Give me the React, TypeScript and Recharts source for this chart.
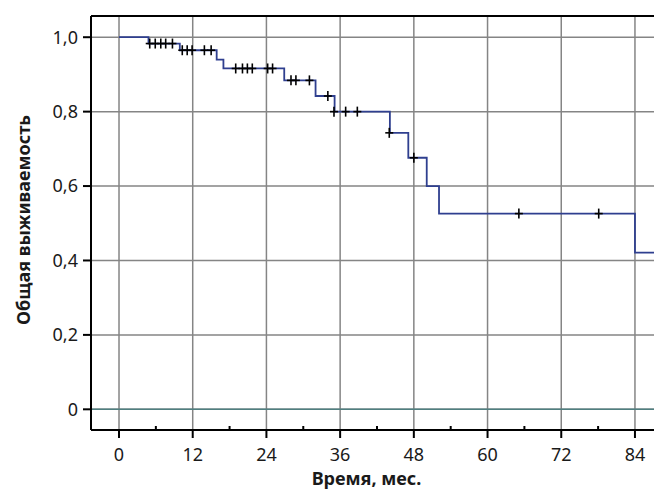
import { CartesianGrid, ComposedChart, Label, Line, ReferenceLine, Scatter, XAxis, YAxis } from "recharts"

// ступеньки кривой Каплана–Мейера
const stepTimes = [0, 4.8, 9.9, 15.9, 17.0, 26.9, 32.0, 35.1, 44.1, 47.1, 50.1, 52.1, 84.0, 88]
const stepSurvival = [1.0, 0.983, 0.965, 0.94, 0.916, 0.884, 0.842, 0.8, 0.743, 0.676, 0.6, 0.526, 0.421, 0.421]

// цензурированные наблюдения
const censorTimes = [
  5.0, 5.9, 6.8, 7.6, 8.7, 10.3, 11.1, 11.9, 13.9, 15.0, 19.0, 20.1, 20.9, 21.7, 24.2, 25.0, 28.0, 28.8,
  31.0, 34.0, 35.0, 36.9, 38.8, 44.0, 48.0, 65.1, 78.1,
]
const censorSurvival = [
  0.983, 0.983, 0.983, 0.983, 0.983, 0.965, 0.965, 0.965, 0.965, 0.965, 0.916, 0.916, 0.916, 0.916, 0.916,
  0.916, 0.884, 0.884, 0.884, 0.842, 0.8, 0.8, 0.8, 0.743, 0.676, 0.526, 0.526,
]

const xMajorTicks = [0, 12, 24, 36, 48, 60, 72, 84]
const xMinorTicks = [6, 18, 30, 42, 54, 66, 78]
const yTicks = [0, 0.2, 0.4, 0.6, 0.8, 1.0]

const X_DOMAIN: [number, number] = [-4.56, 87.1]
const Y_DOMAIN: [number, number] = [-0.0556, 1.057]

const steps = stepTimes.map((t, i) => ({ t, s: stepSurvival[i] }))
const censored = censorTimes.map((t, i) => ({ t, s: censorSurvival[i] }))
const allXTicks = [...xMajorTicks, ...xMinorTicks].sort((a, b) => a - b)

const FONT = "'Noto Sans', sans-serif"
const GRID = "#858585"

function XTick({ x, y, payload }: any) {
  if (xMajorTicks.includes(payload.value)) {
    return (
      <g>
        <line x1={x} x2={x} y1={y} y2={y + 8} stroke="#000" strokeWidth={2} />
        <text x={x} y={y + 31} textAnchor="middle" fontFamily={FONT} fontSize={18} fill="#1a1a1a">
          {payload.value}
        </text>
      </g>
    )
  }
  return <line x1={x} x2={x} y1={y} y2={y - 4} stroke="#000" strokeWidth={2} />
}

function Censor({ cx, cy }: any) {
  return (
    <g stroke="#000" strokeWidth={1.6}>
      <line x1={cx - 4} x2={cx + 4} y1={cy} y2={cy} />
      <line x1={cx} x2={cx} y1={cy - 5} y2={cy + 5} />
    </g>
  )
}

export default function App() {
  return (
    <div style={{ position: "fixed", left: 0, top: 0, background: "#fff" }}>
      <ComposedChart width={654} height={491} margin={{ top: 16, right: 0, bottom: 0, left: 0 }}>
        <CartesianGrid vertical={false} stroke={GRID} strokeWidth={1.5} />
        {xMajorTicks.map((v) => (
          <ReferenceLine key={v} x={v} stroke={GRID} strokeWidth={1.5} />
        ))}
        <ReferenceLine y={0} stroke="#4f7f80" strokeWidth={1.5} />
        <ReferenceLine y={Y_DOMAIN[1]} stroke="#000" strokeWidth={2} />
        <XAxis
          dataKey="t"
          type="number"
          domain={X_DOMAIN}
          allowDataOverflow
          ticks={allXTicks}
          interval={0}
          tickLine={false}
          tickSize={0}
          tickMargin={0}
          tick={<XTick />}
          height={61}
          axisLine={{ stroke: "#000", strokeWidth: 2 }}
        >
          <Label
            content={({ viewBox }: any) => (
              <text
                x={viewBox.x + viewBox.width / 2 - 6}
                y={viewBox.y + 55}
                textAnchor="middle"
                fontFamily={FONT}
                fontWeight={700}
                fontSize={18}
                fill="#1a1a1a"
              >
                Время, мес.
              </text>
            )}
          />
        </XAxis>
        <YAxis
          dataKey="s"
          type="number"
          domain={Y_DOMAIN}
          allowDataOverflow
          ticks={yTicks}
          interval={0}
          width={91}
          tickSize={8}
          tickMargin={5}
          tickFormatter={(v: number) => (v === 0 ? "0" : v.toFixed(1).replace(".", ","))}
          tick={{ fontFamily: FONT, fontSize: 18, fill: "#1a1a1a" }}
          tickLine={{ stroke: "#000", strokeWidth: 2 }}
          axisLine={{ stroke: "#000", strokeWidth: 2 }}
        >
          <Label
            content={({ viewBox }: any) => {
              const cx = viewBox.x + 23
              const cy = viewBox.y + viewBox.height / 2 - 3
              return (
                <text
                  x={cx}
                  y={cy}
                  transform={`rotate(-90, ${cx}, ${cy})`}
                  textAnchor="middle"
                  dominantBaseline="central"
                  fontFamily={FONT}
                  fontWeight={700}
                  fontSize={18}
                  fill="#1a1a1a"
                >
                  Общая выживаемость
                </text>
              )
            }}
          />
        </YAxis>
        <Line
          data={steps}
          dataKey="s"
          type="stepAfter"
          stroke="#2f3f8f"
          strokeWidth={1.8}
          dot={false}
          activeDot={false}
          isAnimationActive={false}
        />
        <Scatter data={censored} dataKey="s" shape={<Censor />} isAnimationActive={false} />
      </ComposedChart>
    </div>
  )
}
